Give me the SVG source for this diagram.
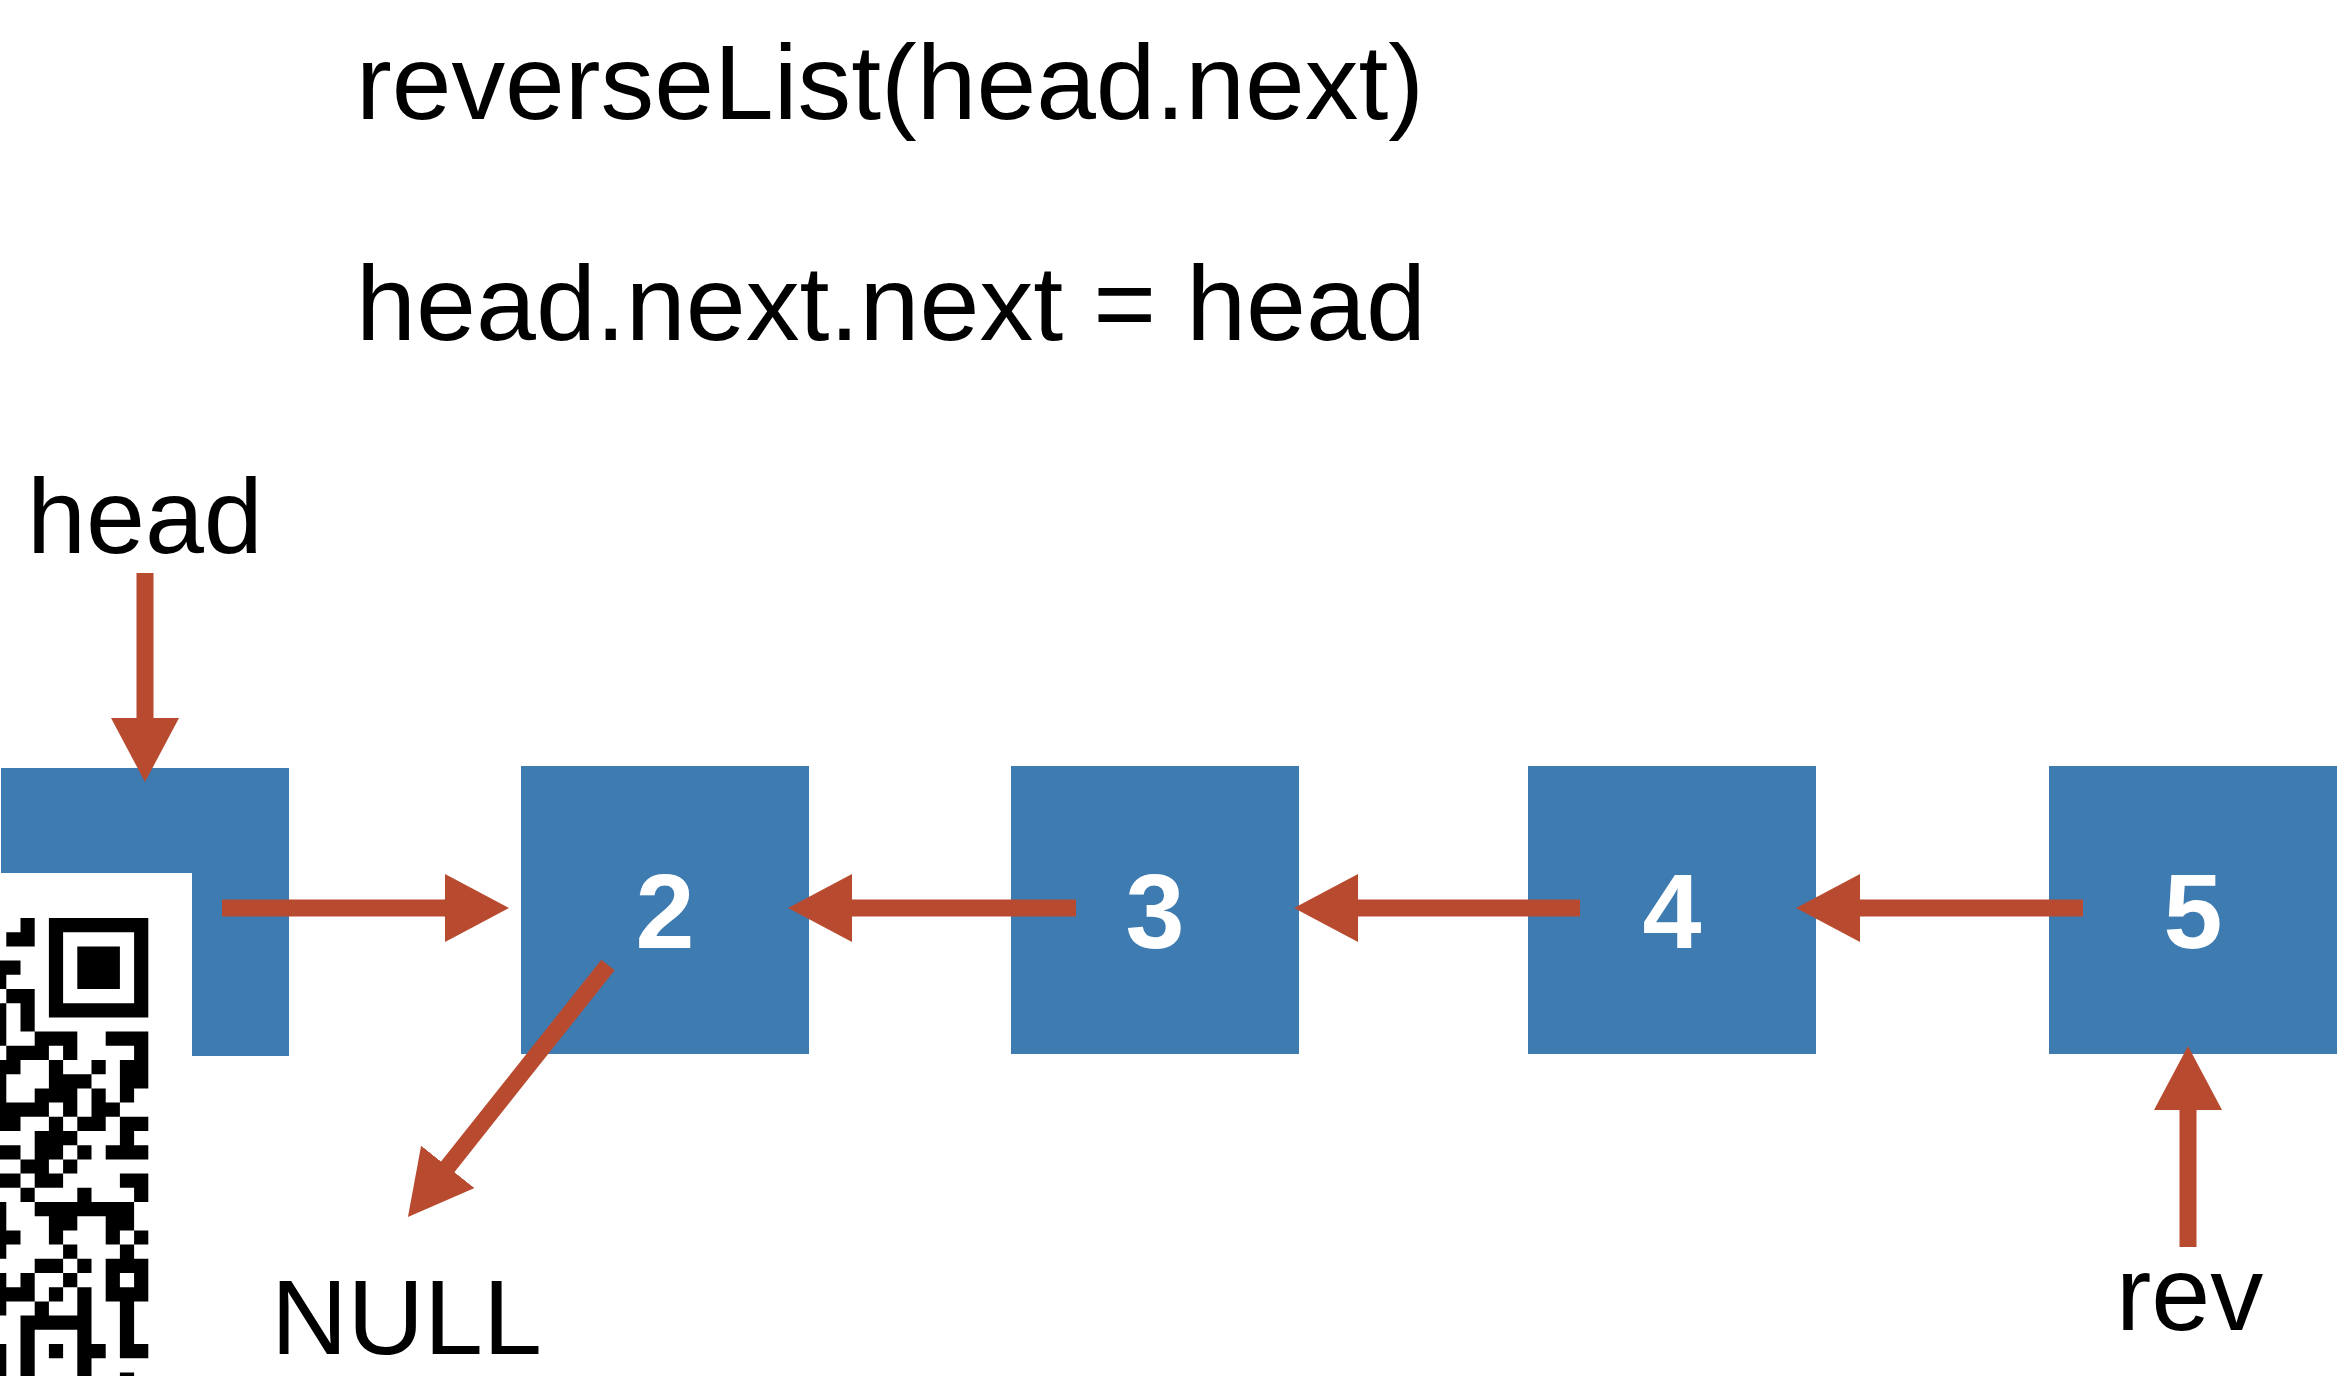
<svg xmlns="http://www.w3.org/2000/svg" width="2346" height="1376" viewBox="0 0 2346 1376">
  <style>
    .node { fill: #3e7bb0; }
    .val { font-family: "Liberation Sans", Arial, sans-serif; font-weight: bold; font-size: 106px; fill: #ffffff; text-anchor: middle; }
    .txt { font-family: "Liberation Sans", Arial, sans-serif; font-size: 106px; fill: #000000; }
    .link { stroke: #b84a30; stroke-width: 17; fill: none; stroke-linecap: butt; marker-end: url(#head); }
  </style>
  <defs>
    <marker id="head" viewBox="0 0 64 68" refX="2" refY="34" markerWidth="64" markerHeight="68" markerUnits="userSpaceOnUse" orient="auto">
      <path d="M0 0 L64 34 L0 68 Z" fill="#b84a30"/>
    </marker>
  </defs>

  <rect width="2346" height="1376" fill="#ffffff"/>

  <!-- code lines -->
  <g id="code">
    <text class="txt" x="356" y="119" textLength="1068" lengthAdjust="spacingAndGlyphs">reverseList(head.next)</text>
    <text class="txt" x="356" y="340" textLength="1070" lengthAdjust="spacingAndGlyphs">head.next.next = head</text>
  </g>

  <!-- pointer labels -->
  <g id="label-head"><text class="txt" x="27" y="553">head</text></g>
  <g id="label-null"><text class="txt" x="271" y="1354">NULL</text></g>
  <g id="label-rev"><text class="txt" x="2116" y="1330">rev</text></g>

  <!-- list nodes -->
  <g id="node1"><rect class="node" x="1" y="768" width="288" height="288"/></g>
  <g id="node2"><rect class="node" x="521" y="766" width="288" height="288"/><text class="val" x="665" y="948">2</text></g>
  <g id="node3"><rect class="node" x="1011" y="766" width="288" height="288"/><text class="val" x="1155" y="948">3</text></g>
  <g id="node4"><rect class="node" x="1528" y="766" width="288" height="288"/><text class="val" x="1672" y="948">4</text></g>
  <g id="node5"><rect class="node" x="2049" y="766" width="288" height="288"/><text class="val" x="2193" y="948">5</text></g>

  <!-- connectors -->
  <g id="connectors">
    <line class="link" x1="145" y1="573" x2="145" y2="720"/>
    <line class="link" x1="222" y1="908" x2="447" y2="908"/>
    <line class="link" x1="1076" y1="908" x2="850" y2="908"/>
    <line class="link" x1="1580" y1="908" x2="1356" y2="908"/>
    <line class="link" x1="2083" y1="908" x2="1858" y2="908"/>
    <line class="link" x1="2188" y1="1247" x2="2188" y2="1108"/>
    <line class="link" x1="608" y1="965" x2="446.5" y2="1168.4"/>
  </g>

  <!-- QR badge over the lower-left corner -->
  <g id="qr">
    <rect x="0" y="873" width="192" height="503" fill="#ffffff"/>
    <g transform="translate(-7.9 918) scale(14.2)">
      <path fill="#000000" fill-rule="evenodd" d="M4 0h7v7h-7z M5 1v5h5v-5z M6 2h3v3h-3z
        M2 0h1v1h-1z M1 1h2v1h-2z M0 3h2v1h-2z M0 4h1v1h-1z M1 5h2v1h-2z
        M0 6h1v1h-1z M2 6h1v1h-1z M0 7h1v1h-1z M2 7h1v1h-1z
        M0 8h1v1h-1z M3 8h3v1h-3z M8 8h3v1h-3z
        M1 9h3v1h-3z M5 9h1v1h-1z M10 9h1v1h-1z
        M0 10h2v1h-2z M4 10h1v1h-1z M7 10h1v1h-1z M9 10h2v1h-2z
        M0 11h1v1h-1z M4 11h3v1h-3z M9 11h2v1h-2z
        M0 12h1v1h-1z M3 12h3v1h-3z M7 12h1v1h-1z M9 12h1v1h-1z
        M0 13h4v1h-4z M5 13h1v1h-1z M7 13h2v1h-2z
        M0 14h2v1h-2z M4 14h1v1h-1z M6 14h2v1h-2z M9 14h2v1h-2z
        M3 15h3v1h-3z M9 15h1v1h-1z
        M0 16h2v1h-2z M3 16h2v1h-2z M6 16h1v1h-1z M8 16h3v1h-3z
        M2 17h2v1h-2z M5 17h1v1h-1z
        M0 18h2v1h-2z M3 18h2v1h-2z M9 18h2v1h-2z
        M2 19h1v1h-1z M6 19h1v1h-1z M10 19h1v1h-1z
        M0 20h1v1h-1z M3 20h7v1h-7z
        M0 21h1v1h-1z M4 21h2v1h-2z M8 21h2v1h-2z
        M0 22h2v1h-2z M4 22h1v1h-1z M8 22h1v1h-1z M10 22h1v1h-1z
        M0 23h1v1h-1z M5 23h1v1h-1z M9 23h1v1h-1z
        M3 24h2v1h-2z M6 24h1v1h-1z M8 24h3v1h-3z
        M0 25h1v1h-1z M2 25h1v1h-1z M5 25h1v1h-1z M8 25h1v1h-1z M10 25h1v1h-1z
        M0 26h3v1h-3z M4 26h1v1h-1z M6 26h1v1h-1z M8 26h3v1h-3z
        M0 27h1v1h-1z M3 27h1v1h-1z M6 27h1v1h-1z M9 27h1v1h-1z
        M2 28h5v1h-5z M9 28h1v1h-1z
        M2 29h1v1h-1z M6 29h1v1h-1z M9 29h1v1h-1z
        M0 30h1v1h-1z M2 30h1v1h-1z M4 30h1v1h-1z M6 30h2v1h-2z M9 30h2v1h-2z
        M0 31h1v1h-1z M2 31h1v1h-1z M6 31h1v1h-1z
        M0 32h1v1h-1z M2 32h1v1h-1z M6 32h1v1h-1z M9 32h1v1h-1z"/>
    </g>
  </g>
</svg>
